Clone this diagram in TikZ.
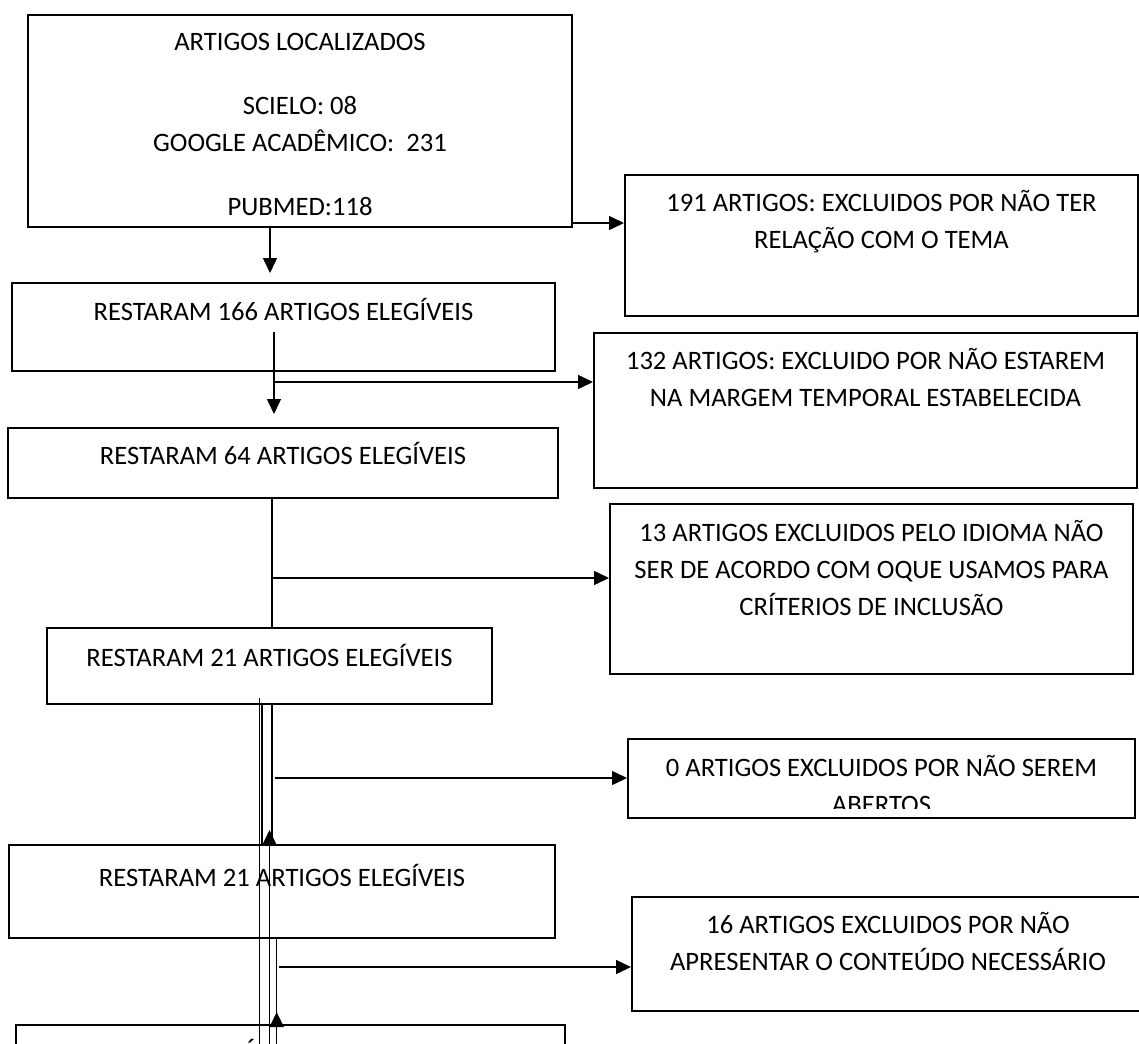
\documentclass[tikz,border=0pt]{standalone}
\usepackage{fontspec}
\setmainfont{Carlito}
\usetikzlibrary{arrows.meta}

\begin{document}
\begin{tikzpicture}[x=1pt,y=-1pt,
  box/.style={draw,line width=2pt,inner sep=0pt},
  txt/.style={font=\fontsize{26.6}{37}\selectfont,align=center,inner sep=0pt,anchor=base},
  conn/.style={line width=1.5pt},
  arr/.style={conn,-{Triangle[length=15pt,width=14pt]}}]
  \useasboundingbox[fill=white] (0,0) rectangle (1139,1043);
  % boxes
  \node[box,minimum width=544,minimum height=212] (loc) at (300,121) {};
  \node[box,minimum width=513,minimum height=141] (r191) at (881.5,245.5) {};
  \node[box,minimum width=543,minimum height=88] (e166) at (283.5,327) {};
  \node[box,minimum width=543,minimum height=155] (r132) at (865.5,410.5) {};
  \node[box,minimum width=550,minimum height=70] (e64) at (283,463) {};
  \node[box,minimum width=523,minimum height=170] (r13) at (871.5,589) {};
  \node[box,minimum width=445,minimum height=76] (e21a) at (269.5,666) {};
  \node[box,minimum width=507,minimum height=79] (r0) at (881.5,778.5) {};
  \node[box,minimum width=546,minimum height=93] (e21b) at (282,891.5) {};
  \node[box,minimum width=512,minimum height=114] (r16) at (888,954) {};
  \node[box,minimum width=549,minimum height=75] (efin) at (290.5,1062.5) {};
  % texts (anchored at the baseline of their last line)
  \node[txt] (tloc) at (300,215.6) {ARTIGOS LOCALIZADOS\\[27pt]SCIELO: 08\\GOOGLE ACADÊMICO:~~231\\[27pt]PUBMED:118};
  \node[txt] (t191) at (881.5,248.6) {191 ARTIGOS: EXCLUIDOS POR NÃO TER\\RELAÇÃO COM O TEMA};
  \node[txt] (t166) at (283.5,320.6) {RESTARAM 166 ARTIGOS ELEGÍVEIS};
  \node[txt] (t132) at (865.5,406.6) {132 ARTIGOS: EXCLUIDO POR NÃO ESTAREM\\NA MARGEM TEMPORAL ESTABELECIDA};
  \node[txt] (t64) at (283,464.6) {RESTARAM 64 ARTIGOS ELEGÍVEIS};
  \node[txt] (t13) at (871.5,615.6) {13 ARTIGOS EXCLUIDOS PELO IDIOMA NÃO\\SER DE ACORDO COM OQUE USAMOS PARA\\CRÍTERIOS DE INCLUSÃO};
  \node[txt] (t21a) at (269.5,666.6) {RESTARAM 21 ARTIGOS ELEGÍVEIS};
  \begin{scope}
    \clip (628,739) rectangle (1135,808.5);
    \node[txt] (t0) at (881.5,813.6) {0 ARTIGOS EXCLUIDOS POR NÃO SEREM\\ABERTOS};
  \end{scope}
  \node[txt] (t21b) at (282,886.6) {RESTARAM 21 ARTIGOS ELEGÍVEIS};
  \node[txt] (t16) at (888,970.6) {16 ARTIGOS EXCLUIDOS POR NÃO\\APRESENTAR O CONTEÚDO NECESSÁRIO};
  \node[txt] (tfin) at (250,1061) {Í};
  % free ends of the connectors
  \coordinate (k1) at ([yshift=-102pt]loc.east);
  \coordinate (k2) at (274,332);
  \coordinate (k3) at (274,382);
  \coordinate (k4) at (272,0);
  \coordinate (k5) at (272,578);
  \coordinate (k6) at (259.3,698);
  \coordinate (k7) at (262,0);
  \coordinate (k9) at (269.5,830);
  \coordinate (k10) at (275,778);
  \coordinate (k11) at (276.7,1012);
  \coordinate (k12) at (279.3,967);
  % connectors
  \draw[arr,shorten >=9pt] ([xshift=-30pt]loc.south) -- ([xshift=-13.5pt]e166.north);
  \draw[arr] (k1) -- (k1 -| r191.west);
  \draw[arr,shorten >=13pt] (k2) -- (k2 |- e64.north);
  \draw[arr] (k3) -- (k3 -| r132.west);
  \draw[conn] (e64.south -| k4) -- (e21a.north -| k4);
  \draw[arr] (k5) -- (k5 -| r13.west);
  \draw[line width=1pt] (k6) -- (k6 |- efin.center);
  \draw[line width=2pt] (e21a.south -| k7) -- (e21b.north -| k7);
  \draw[conn] (e21a.south -| k4) -- (e21b.north -| k4);
  \draw[arr] (k9 |- efin.center) -- (k9);
  \draw[arr] (k10) -- (k10 -| r0.west);
  \draw[conn] (e21b.south -| k11) -- (k11 |- efin.center);
  \draw[arr] (k11 |- efin.center) -- (k11);
  \draw[arr] (k12) -- (k12 -| r16.west);
\end{tikzpicture}
\end{document}
